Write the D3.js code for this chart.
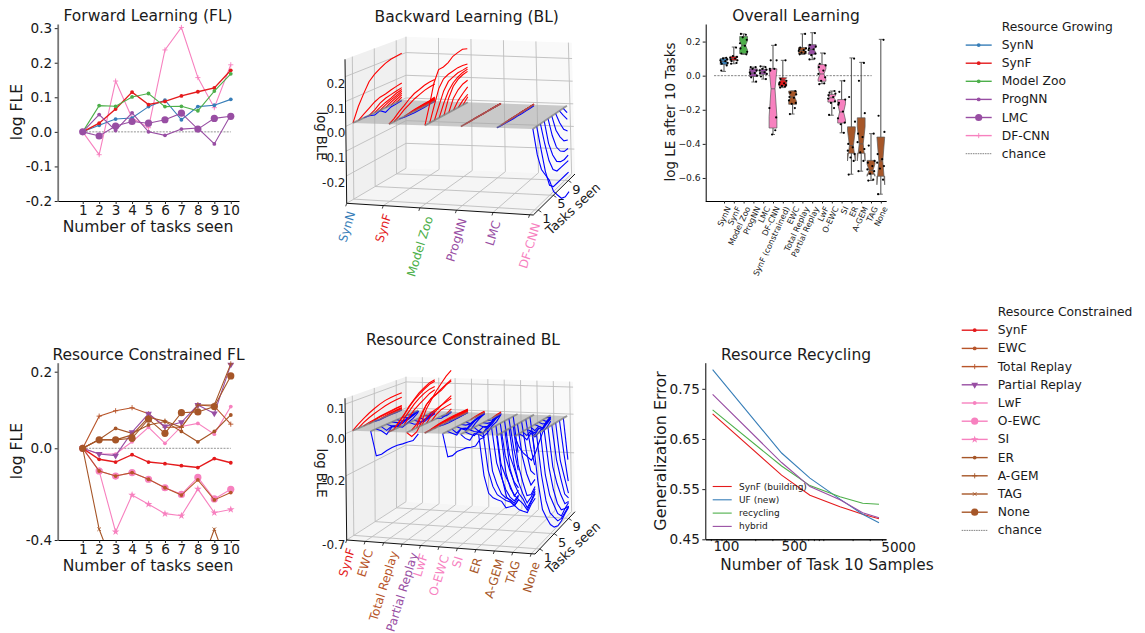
<!DOCTYPE html>
<html>
<head>
<meta charset="utf-8">
<script src="https://cdn.jsdelivr.net/npm/d3@7"></script>
<style>
  body { margin: 0; background: #fff; }
  text { font-family: "DejaVu Sans", sans-serif; fill: #1a1a1a; }
</style>
</head>
<body>
<svg id="chart" width="1145" height="633"></svg>
<script>
// ---- data ----
var taskTicks = [1, 2, 3, 4, 5, 6, 7, 8, 9, 10];

// forward learning, resource growing
var growNames = ["SynN", "SynF", "Model Zoo", "ProgNN", "LMC", "DF-CNN"];
var flSynN = [0, .019, .037, .040, .073, .092, .035, .073, .077, .094];
var flSynF = [0, .025, .066, .115, .079, .088, .104, .116, .127, .178];
var flZoo = [0, .076, .074, .101, .111, .073, .074, .061, .118, .168];
var flProg = [0, .05, .004, .055, 0, -.01, .008, .011, -.035, .049];
var flLMC = [0, -.012, .017, .03, .025, .035, .054, .008, .039, .045];
var flDFCNN = [0, -.066, .147, .04, .012, .237, .302, .157, .07, .194];

// forward learning, resource constrained
var consNames = ["SynF", "EWC", "Total Replay", "Partial Replay", "LwF", "O-EWC", "SI", "ER", "A-GEM", "TAG", "None"];
var rcSynF = [0, -.048, -.06, -.028, -.06, -.067, -.076, -.084, -.045, -.063];
var rcEWC = [0, -.099, -.121, -.106, -.135, -.172, -.204, -.138, -.225, -.193];
var rcTotal = [0, .084, .098, .106, .09, .055, .055, .113, .110, .063];
var rcPartial = [0, -.025, -.032, .042, .09, .057, .068, .113, .091, .218];
var rcLwF = [0, -.025, -.025, .017, .055, .013, .057, .065, .037, .109];
var rcOEWC = [0, -.099, -.121, -.106, -.135, -.172, -.201, -.127, -.221, -.179];
var rcSI = [0, -.099, -.364, -.204, -.244, -.285, -.294, -.178, -.281, -.267];
var rcER = [0, .023, .052, .039, .061, .07, .044, .017, .044, .087];
var rcAGEM = [0, .023, .022, .035, .081, .071, .055, .113, .113, .22];
var rcTAG = [0, -.353, -.54, -.6, -.6, -.6, -.6, -.55, -.353, -.55];
var rcNone = [0, .022, .022, .026, .076, .039, .093, .095, .109, .189];

// backward learning, one list per task, starting on the task it belongs to
var blSynN = [
  [0, .057, .1, .14, .161, .176, .189, .197, .201, .204],
  [0, .015, .03, .045, .055, .058, .065, .07, .074],
  [0, -.002, -.01, -.002, -.02, -.008, -.006, -.003],
  [0, .012, .03, .04, .045, .05, .054],
  [0, .012, .022, .03, .04, .046],
  [0, .012, .022, .03, .038],
  [0, .012, .022, .03],
  [0, .012, .022],
  [0, .012]
];
var blSynF = [
  [0, .012, .03, .045, .062, .075, .082, .09, .094, .094],
  [0, .012, .028, .04, .052, .06, .068, .072, .075],
  [0, -.003, -.005, -.006, -.005, -.004, -.002, -.001],
  [0, .004, .008, .01, .012, .013, .018],
  [0, .004, .008, .01, .012, .014],
  [0, .004, .006, .008, .012],
  [0, .003, .005, .01],
  [0, .003, .007],
  [0, .004]
];
var blZoo = [
  [0, .071, .151, .197, .199, .209, .227, .234, .24, .234],
  [0, .06, .12, .15, .16, .165, .17, .17, .167],
  [0, .05, .1, .13, .14, .148, .15, .153],
  [0, .05, .09, .115, .13, .14, .145],
  [0, .06, .1, .12, .13, .135],
  [0, .05, .075, .09, .096],
  [0, .03, .05, .067],
  [0, .02, .035],
  [0, .024]
];
var blProg = [
  [0, 0, 0, 0, 0, 0, 0, 0, 0, 0],
  [0, 0, 0, 0, 0, 0, 0, 0, 0],
  [0, 0, 0, 0, 0, 0, 0, 0],
  [0, 0, 0, 0, 0, 0, 0],
  [0, 0, 0, 0, 0, 0],
  [0, 0, 0, 0, 0],
  [0, 0, 0, 0],
  [0, 0, 0],
  [0, 0]
];
var blLMC = [
  [0, -.002, -.003, -.004, -.005, -.005, -.006, -.006, -.006, -.005],
  [0, .001, .001, .001, .001, .001, .001, .001, .001],
  [0, .001, .001, .001, .001, .001, .001, .001],
  [0, .001, .001, .001, .001, .001, .001],
  [0, .001, .001, .001, .001, .001],
  [0, .001, .001, .001, .001],
  [0, .001, .001, .001],
  [0, .001, .001],
  [0, .001]
];
var blDFCNN = [
  [0, -.111, -.18, -.215, -.25, -.31, -.34, -.37, -.38, -.375],
  [0, -.1, -.2, -.27, -.29, -.29, -.29, -.29, -.29],
  [0, -.09, -.17, -.22, -.24, -.24, -.24, -.24],
  [0, -.1, -.16, -.2, -.215, -.22, -.216],
  [0, -.08, -.14, -.17, -.185, -.187],
  [0, -.07, -.11, -.14, -.15],
  [0, -.05, -.09, -.11],
  [0, -.03, -.06],
  [0, -.03]
];

var bcSynF = [
  [0, .014, .026, .037, .046, .054, .06, .063, .064, .065],
  [0, .012, .021, .028, .034, .04, .044, .046, .048],
  [0, .004, .007, .01, .012, .014, .015, .016],
  [0, .004, .007, .009, .011, .013, .014],
  [0, -.003, -.002, -.001, -.002, -.001],
  [0, .004, .006, .008, .009],
  [0, .003, .005, .007],
  [0, .003, .005],
  [0, .002]
];
var bcEWC = [
  [0, -.13, -.135, -.13, -.128, -.13, -.136, -.14, -.146, -.125],
  [0, -.02, -.05, -.025, -.035, -.05, -.04, -.03, -.01],
  [0, -.03, -.02, -.035, -.03, -.02, -.01, -.005],
  [0, -.02, -.03, -.02, -.025, -.015, -.005],
  [0, -.015, -.03, -.02, -.01, -.005],
  [0, -.02, -.015, -.01, -.003],
  [0, -.015, -.01, -.004],
  [0, -.01, -.005],
  [0, -.005]
];
var bcTotal = [
  [0, 0, .018, .035, .058, .075, .092, .104, .114, .118],
  [0, .017, .035, .055, .072, .086, .098, .108, .112],
  [0, .022, .04, .058, .072, .083, .09, .092],
  [0, .02, .037, .05, .062, .074, .08],
  [0, -.02, -.03, -.02, -.02, -.015],
  [0, -.02, -.03, -.02, -.01],
  [0, -.02, -.01, -.005],
  [0, -.015, -.005],
  [0, -.005]
];
var bcPartial = [
  [0, -.03, -.02, .012, .05, .075, .1, .12, .14, .155],
  [0, .012, .04, .065, .08, .088, .1, .11, .12],
  [0, .035, .065, .08, .088, .095, .108, .115],
  [0, .02, .03, .035, .04, .05, .06],
  [0, .02, .03, .04, .045, .05],
  [0, .015, .025, .028, .03],
  [0, -.01, -.005, 0],
  [0, -.01, -.004],
  [0, .01]
];
var bcLwF = [
  [0, .002, .005, .008, .01, .012, .012, .012, .012, .012],
  [0, .003, .006, .008, .009, .01, .01, .01, .01],
  [0, .003, .005, .007, .008, .009, .009, .009],
  [0, -.004, -.006, -.005, -.004, -.002, -.001],
  [0, .003, .005, .006, .007, .007],
  [0, -.003, -.005, -.003, -.001],
  [0, .002, .004, .005],
  [0, .002, .003],
  [0, .002]
];
var bcOEWC = [
  [0, -.12, -.127, -.12, -.124, -.128, -.138, -.146, -.124, -.127],
  [0, -.02, -.04, -.02, -.03, -.05, -.03, -.015, -.005],
  [0, -.03, -.02, -.04, -.02, -.015, -.01, -.005],
  [0, -.02, -.04, -.03, -.015, -.01, -.003],
  [0, -.015, -.02, -.015, -.005, 0],
  [0, -.02, -.01, -.005, .002],
  [0, .004, .005, .006],
  [0, .003, .004],
  [0, .002]
];
var bcSI = [
  [0, -.03, -.05, -.03, -.045, -.07, -.06, -.04, -.03, -.005],
  [0, -.02, -.04, -.03, -.05, -.04, -.03, -.01, -.005],
  [0, -.02, -.035, -.05, -.03, -.02, -.01, -.003],
  [0, -.03, -.02, -.04, -.02, -.01, -.005],
  [0, -.02, -.03, -.015, -.005, .002],
  [0, -.015, -.02, -.01, .002],
  [0, -.01, -.005, .003],
  [0, .004, .005],
  [0, .003]
];
var bcER = [
  [0, -.2, -.36, -.42, -.46, -.5, -.58, -.6, -.62, -.6],
  [0, -.19, -.33, -.42, -.47, -.52, -.56, -.62, -.6],
  [0, -.21, -.34, -.44, -.5, -.54, -.6, -.57],
  [0, -.18, -.3, -.43, -.52, -.58, -.56],
  [0, -.2, -.32, -.42, -.54, -.52],
  [0, -.17, -.3, -.42, -.5],
  [0, -.18, -.3, -.45],
  [0, -.16, -.35],
  [0, -.2]
];
var bcAGEM = [
  [0, -.21, -.38, -.44, -.5, -.56, -.6, -.64, -.6, -.58],
  [0, -.2, -.34, -.42, -.48, -.54, -.62, -.58, -.54],
  [0, -.19, -.33, -.43, -.5, -.6, -.57, -.52],
  [0, -.18, -.34, -.46, -.56, -.54, -.5],
  [0, -.2, -.36, -.5, -.52, -.48],
  [0, -.17, -.32, -.44, -.42],
  [0, -.16, -.32, -.38],
  [0, -.15, -.3],
  [0, -.18]
];
var bcTAG = [
  [0, -.06, -.1, -.13, -.16, -.14, -.1, -.06, -.05, -.03],
  [0, -.02, -.05, -.03, -.06, -.05, -.04, -.03, -.02],
  [0, -.03, -.02, -.05, -.03, -.04, -.02, -.01],
  [0, -.02, -.04, -.03, -.05, -.03, -.01],
  [0, -.03, -.02, -.04, -.02, -.01],
  [0, -.02, -.04, -.02, -.01],
  [0, -.02, -.03, -.01],
  [0, -.02, -.01],
  [0, -.01]
];
var bcNone = [
  [0, -.22, -.46, -.55, -.63, -.68, -.7, -.69, -.66, -.64],
  [0, -.2, -.42, -.54, -.6, -.66, -.67, -.65, -.63],
  [0, -.22, -.4, -.5, -.6, -.65, -.62, -.63],
  [0, -.19, -.38, -.52, -.6, -.62, -.6],
  [0, -.2, -.36, -.48, -.58, -.59],
  [0, -.18, -.34, -.5, -.56],
  [0, -.2, -.36, -.52],
  [0, -.18, -.42],
  [0, -.24]
];

// overall learning
var olNames = ["SynN", "SynF", "Model Zoo", "ProgNN", "LMC", "DF-CNN", "SynF (constrained)", "EWC", "Total Replay", "Partial Replay", "LwF", "O-EWC", "SI", "ER", "A-GEM", "TAG", "None"];
var olQ1 = [.066, .09, .129, -.005, .008, -.307, -.062, -.168, .129, .125, -.033, -.155, -.278, -.455, -.455, -.578, -.59];
var olMedian = [.084, .1, .178, .015, .022, -.077, -.025, -.125, .148, .153, .01, -.13, -.213, -.41, -.4, -.555, -.5];
var olQ3 = [.1, .113, .23, .04, .037, .04, -.012, -.09, .165, .182, .065, -.11, -.14, -.3, -.247, -.497, -.36];
var olNotchLow = [.073, .092, .15, 0, .01, -.24, -.04, -.15, .135, .13, -.02, -.145, -.26, -.5, -.5, -.59, -.64];
var olNotchHigh = [.095, .108, .205, .03, .032, .04, -.012, -.1, .16, .175, .04, -.115, -.165, -.32, -.3, -.52, -.36];
var olWhiskLow = [.025, .07, .125, -.037, -.02, -.345, -.07, -.225, .125, .094, -.047, -.232, -.335, -.578, -.56, -.615, -.695];
var olWhiskHigh = [.105, .168, .245, .05, .055, .178, .09, -.09, .245, .252, .133, -.09, -.03, .104, .078, -.34, .213];
var olPoints = [
  [.06, .07, .075, .08, .085, .09, .095, .1, .105, .03],
  [.075, .085, .09, .095, .1, .105, .11, .115, .165, .07],
  [.125, .13, .14, .16, .175, .19, .21, .225, .24, .245],
  [-.035, -.01, 0, .01, .015, .02, .03, .04, .05, .05],
  [-.02, -.005, .01, .015, .02, .03, .035, .04, .05, .055],
  [.18, .09, .09, .04, .04, -.19, -.245, -.345, -.32, .03],
  [.09, -.02, -.03, -.04, -.045, -.05, -.055, -.06, -.065, -.07],
  [-.09, -.1, -.11, -.125, -.13, -.145, -.16, -.165, -.19, -.225],
  [.245, .165, .16, .155, .15, .145, .14, .135, .13, .125],
  [.25, .18, .17, .16, .155, .15, .13, .12, .1, .095],
  [.13, .07, .06, .05, .03, .01, -.01, -.03, -.045, -.05],
  [-.09, -.1, -.105, -.115, -.125, -.135, -.15, -.16, -.19, -.23],
  [-.03, -.095, -.14, -.17, -.21, -.25, -.275, -.285, -.335, -.16],
  [.1, -.125, -.27, -.4, -.42, -.44, -.46, -.48, -.5, -.58],
  [.075, -.03, -.22, -.34, -.36, -.39, -.43, -.45, -.5, -.56],
  [-.34, -.41, -.5, -.51, -.53, -.55, -.56, -.575, -.61, -.615],
  [.21, -.235, -.33, -.46, -.49, -.51, -.53, -.545, -.61, -.695]
];
var olJitter = [.3, -.25, .4, -.35, .15, -.4, .35, -.1, .25, -.3];

// resource recycling
var recycleNames = ["SynF (building)", "UF (new)", "recycling", "hybrid"];
var recycleSamples = [73, 373, 729, 1483, 2535, 3733];
var recSynF = [.70, .578, .538, .515, .5, .491];
var recUF = [.788, .622, .572, .53, .5, .483];
var recRecycling = [.708, .596, .557, .535, .522, .52];
var recHybrid = [.739, .603, .555, .529, .503, .493];

// ---- colours ----
var blue = "#377eb8", red = "#e41a1c", green = "#4daf4a", purple = "#984ea3",
    pink = "#f781bf", brown = "#a65628", rust = "#b8552a";
var growColors = [blue, red, green, purple, purple, pink];
var growMarks = ["dot", "dot", "dot", "dot", "big", "plus"];
var consColors = [red, rust, rust, purple, pink, pink, pink, brown, brown, brown, brown];
var consMarks = ["dot", "dot", "plus", "tri", "dot", "big", "star", "dot", "plus", "x", "big"];
var olColors = [blue, red, green, purple, purple, pink, red, brown, brown, purple, pink, pink, pink, brown, brown, brown, brown];
var recycleColors = [red, blue, green, purple];

var svg = d3.select("#chart");
var font = { title: 15.5, label: 15.6, tick: 13.6 };

function addText(g, x, y, str, size, anchor, rotate, color) {
  var t = g.append("text")
    .attr("transform", "translate(" + x + "," + y + ")" + (rotate ? " rotate(" + rotate + ")" : ""))
    .attr("text-anchor", anchor || "middle")
    .style("font-size", size + "px")
    .text(str);
  if (color) t.style("fill", color);
  return t;
}

function drawMark(g, kind, x, y, color) {
  var m;
  if (kind == "dot" || kind == "big") {
    m = g.append("circle").attr("cx", x).attr("cy", y).attr("r", kind == "big" ? 3.6 : 1.9).attr("fill", color);
  } else {
    var type = { plus: d3.symbolPlus, x: d3.symbolTimes, tri: d3.symbolTriangle, star: d3.symbolStar }[kind];
    var size = { plus: 10, x: 10, tri: 20, star: 18 }[kind];
    m = g.append("path").attr("d", d3.symbol().type(type).size(size)())
      .attr("transform", "translate(" + x + "," + y + ")" + (kind == "tri" ? " rotate(180)" : ""));
    if (kind == "plus" || kind == "x") m.attr("fill", "none").attr("stroke", color).attr("stroke-width", 0.9);
    else m.attr("fill", color);
  }
}

function styleAxis(a, size) {
  a.selectAll("text").style("font-size", size + "px").style("font-family", '"DejaVu Sans", sans-serif');
  a.selectAll("line").attr("stroke", "#222");
}

var clipCount = 0;
function linePanel(series, colors, marks, x, y, yTicks) {
  var g = svg.append("g");
  var id = "clip" + (clipCount++);
  var yr = y.range();
  svg.append("clipPath").attr("id", id).append("rect")
    .attr("x", x.range()[0]).attr("y", yr[yr.length - 1] - 6)
    .attr("width", x.range()[1] - x.range()[0] + 6)
    .attr("height", yr[0] - yr[yr.length - 1] + 6);
  var line = d3.line().x(function(d, i) { return x(taskTicks[i]); }).y(function(d) { return y(d); });
  var plot = g.append("g").attr("clip-path", "url(#" + id + ")");
  plot.append("line").attr("x1", x(1)).attr("x2", x(10)).attr("y1", y(0)).attr("y2", y(0))
    .attr("stroke", "#666").attr("stroke-width", 0.7).attr("stroke-dasharray", "2,1.2");
  series.forEach(function(vals, i) {
    plot.append("path").attr("d", line(vals)).attr("fill", "none")
      .attr("stroke", colors[i]).attr("stroke-width", colors[i] == red ? 1.4 : 1.1);
    vals.forEach(function(v, k) { drawMark(plot, marks[i], x(taskTicks[k]), y(v), colors[i]); });
  });
  var bx = g.append("g").attr("transform", "translate(0," + yr[0] + ")")
    .call(d3.axisBottom(x).tickValues(taskTicks).tickSize(3).tickPadding(1.5).tickSizeOuter(0));
  var by = g.append("g").attr("transform", "translate(" + x.range()[0] + ",0)")
    .call(d3.axisLeft(y).tickValues(yTicks).tickSize(3).tickPadding(2.5).tickSizeOuter(0)
      .tickFormat(function(d) { return d3.format(".1f")(d).replace("\u2212", "-"); }));
  styleAxis(bx, font.tick); styleAxis(by, font.tick);
  by.select(".domain").attr("stroke", "#777").attr("stroke-width", 1.8);
  return g;
}

// ---- forward learning panels ----
var xFL = d3.scaleLinear().domain([-.52, 10.5]).range([57.7, 239]);
var yFL = d3.scaleLinear().domain([-.2, .312]).range([201, 24]);
var g1 = linePanel([flDFCNN, flSynN, flSynF, flZoo, flProg, flLMC],
  [pink, blue, red, green, purple, purple], ["plus", "dot", "dot", "dot", "dot", "big"],
  xFL, yFL, [-.2, -.1, 0, .1, .2, .3]);
addText(g1, 148, 21, "Forward Learning (FL)", font.title);
addText(g1, 148, 232, "Number of tasks seen", font.label);
addText(g1, 22, 112, "log FLE", font.label, "middle", -90);

// the lower panel's y axis is not even between its three labels
var yRC = d3.scaleLinear().domain([-.4, 0, .2, .223]).range([540, 448.3, 371.7, 362.7]);
var g4 = linePanel([rcLwF, rcOEWC, rcSI, rcEWC, rcSynF, rcER, rcTotal, rcPartial, rcAGEM, rcTAG, rcNone],
  [pink, pink, pink, rust, red, brown, rust, purple, brown, brown, brown],
  ["dot", "big", "star", "dot", "dot", "dot", "plus", "tri", "plus", "x", "big"],
  xFL, yRC, [-.4, 0, .2]);
addText(g4, 148.5, 360, "Resource Constrained FL", font.title);
addText(g4, 148, 571, "Number of tasks seen", font.label);
addText(g4, 22, 451, "log FLE", font.label, "middle", -90);

// ---- 3d panels ----
function panel3d(opts) {
  var c = opts.corners;
  var u = d3.scaleLinear().domain([0, opts.curves.length - 1]).range([0, .98]);
  var v = d3.scaleLinear().domain([1, 10]).range([.12, .93]);
  var w = opts.zScale;
  function mix(a, b, t) { return [a[0] + (b[0] - a[0]) * t, a[1] + (b[1] - a[1]) * t]; }
  // trilinear between the eight corners of the box
  function project(alg, task, z) {
    var fu = u(alg), fv = v(task), fw = w(z);
    var bottom = mix(mix(c.flb, c.frb, fu), mix(c.blb, c.brb, fu), fv);
    var top = mix(mix(c.flt, c.frt, fu), mix(c.blt, c.brt, fu), fv);
    return mix(bottom, top, fw);
  }
  var n = opts.curves.length;
  var zLow = w.domain()[0], zHigh = w.invert(1);
  var tEdge = v.invert(1), tFront = v.invert(0);
  var algs = d3.range(n);
  var g = svg.append("g");

  var poly = function(pts, fill) {
    g.append("polygon").attr("points", pts.map(function(p) { return p.join(","); }).join(" ")).attr("fill", fill);
  };
  poly([c.flb, c.blb, c.blt, c.flt], "#f0f0f0");
  poly([c.blb, c.brb, c.brt, c.blt], "#f9f9f9");
  poly([c.flb, c.frb, c.brb, c.blb], "#f5f5f5");

  var seg = function(a, b, color, width) {
    g.append("line").attr("x1", a[0]).attr("y1", a[1]).attr("x2", b[0]).attr("y2", b[1])
      .attr("stroke", color).attr("stroke-width", width);
  };
  var grid = "#bdbdbd";
  algs.forEach(function(a) {
    seg(project(a, tFront, zLow), project(a, tEdge, zLow), grid, 0.9);
    seg(project(a, tEdge, zLow), project(a, tEdge, zHigh), grid, 0.9);
  });
  opts.taskTicks.forEach(function(t) {
    seg(mix(mix(c.flb, c.blb, v(t)), mix(c.frb, c.brb, v(t)), 0), mix(c.frb, c.brb, v(t)), grid, 0.9);
    seg(project(0, t, zLow), project(0, t, zHigh), grid, 0.9);
  });
  opts.zTicks.forEach(function(z) {
    seg(project(0, tFront, z), project(0, tEdge, z), grid, 0.9);
    seg(project(0, tEdge, z), mix(mix(c.brb, c.brt, w(z)), mix(c.brb, c.brt, w(z)), 0), grid, 0.9);
  });

  // the gray plane at zero
  g.append("polygon").attr("points", [project(0, 1, 0), project(n - 1, 1, 0), project(n - 1, 10, 0), project(0, 10, 0)]
    .map(function(p) { return p.join(","); }).join(" ")).attr("fill", "#a8a8a8").attr("opacity", .6);

  var line = d3.line();
  opts.curves.forEach(function(tasks, a) {
    tasks.forEach(function(vals, k) {
      var pts = vals.map(function(z, i) { return project(a, k + 1 + i, z); });
      g.append("path").attr("d", line(pts)).attr("fill", "none")
        .attr("stroke", d3.sum(vals) >= 0 ? "#ff0000" : "#0000ff").attr("stroke-width", 1.1);
    });
    g.append("path").attr("d", line([project(a, 1, 0), project(a, 10, 0)])).attr("fill", "none")
      .attr("stroke", "#7a7a7a").attr("stroke-width", 1.8).attr("opacity", .7);
  });

  // axis lines and labels
  seg(c.flb, c.frb, "#111", 1);
  seg(c.flb, c.flt, "#111", 1);
  seg(c.frb, c.brb, "#111", 1);
  var angle = 73 * Math.PI / 180;
  algs.forEach(function(a) {
    var p = project(a, tFront, zLow);
    seg(p, [p[0] - 1, p[1] + 3], "#111", 0.8);
    // rotated label centred under its tick, with its top edge a fixed gap below the axis
    var t = addText(g, p[0], p[1], opts.names[a], 12, "middle", -73, opts.colors[a]).attr("dy", ".35em");
    var half = t.node().getComputedTextLength() / 2 * Math.sin(angle);
    t.attr("transform", "translate(" + p[0] + "," + (p[1] + 8.5 + half) + ") rotate(-73)");
  });
  opts.taskTicks.forEach(function(t) {
    var p = mix(c.frb, c.brb, v(t));
    seg(p, [p[0] + 3, p[1] + 2], "#111", 0.8);
    addText(g, p[0] + 8, p[1] + 13, t, 13);
  });
  opts.zLabels.forEach(function(z) {
    var p = project(0, tFront, z);
    addText(g, 345.5, p[1] + opts.zLabelDy, d3.format(".1f")(z).replace("\u2212", "-"), 12, "end");
  });
  addText(g, opts.title[0], opts.title[1], opts.title[2], font.title);
  addText(g, opts.zName[0], opts.zName[1], "log BLE", 13.2, "middle", 90);
  addText(g, opts.tasksName[0], opts.tasksName[1], "Tasks seen", 12.8, "middle", -43);
}

panel3d({
  corners: {
    flb: [346.7, 203.3], frb: [533.3, 215], blb: [406, 168.3], brb: [575, 174],
    flt: [345, 59.3], frt: [530, 60.7], blt: [406, 36.7], brt: [571.7, 42.7]
  },
  curves: [blSynN, blSynF, blZoo, blProg, blLMC, blDFCNN],
  names: growNames, colors: growColors,
  zScale: d3.scaleLinear().domain([-.31, .27]).range([0, 1]),
  zTicks: [-.2, -.1, 0, .1, .2], zLabels: [-.2, -.1, 0, .1, .2], zLabelDy: 11,
  taskTicks: [1, 5, 9],
  title: [466.7, 22, "Backward Learning (BL)"],
  zName: [317, 136], tasksName: [576, 212]
});

panel3d({
  corners: {
    flb: [346.7, 540], frb: [535, 554], blb: [406, 501.7], brb: [575, 511.7],
    flt: [345, 398.3], frt: [530, 402], blt: [406, 376.7], brt: [573, 381.7]
  },
  curves: [bcSynF, bcEWC, bcTotal, bcPartial, bcLwF, bcOEWC, bcSI, bcER, bcAGEM, bcTAG, bcNone],
  names: consNames, colors: consColors,
  zScale: d3.scaleLinear().domain([-.7, -.2, 0, .12]).range([0, .453, .75, 1]),
  zTicks: [-.2, 0, .1], zLabels: [-.7, -.2, 0, .1], zLabelDy: 9,
  taskTicks: [1, 5, 9],
  title: [463, 345, "Resource Constrained BL"],
  zName: [317, 473], tasksName: [576, 551]
});

// ---- overall learning ----
(function() {
  var g = svg.append("g");
  var x = d3.scalePoint().domain(olNames).range([724, 880.8]);
  var y = d3.scaleLinear().domain([-.735, .303]).range([201, 24]);
  g.append("line").attr("x1", 714).attr("x2", 871.7).attr("y1", y(0)).attr("y2", y(0))
    .attr("stroke", "#666").attr("stroke-width", 0.8).attr("stroke-dasharray", "2.2,1.2");
  olNames.forEach(function(name, i) {
    var cx = x(name), w = 3.9, nw = 2;
    g.append("line").attr("x1", cx).attr("x2", cx).attr("y1", y(olWhiskLow[i])).attr("y2", y(olWhiskHigh[i]))
      .attr("stroke", "#5a5a5a").attr("stroke-width", 1.1);
    [olWhiskLow[i], olWhiskHigh[i]].forEach(function(v) {
      g.append("line").attr("x1", cx - 2).attr("x2", cx + 2).attr("y1", y(v)).attr("y2", y(v))
        .attr("stroke", "#5a5a5a").attr("stroke-width", .9);
    });
    var notched = d3.line()([
      [cx - w, y(olQ1[i])], [cx - w, y(olNotchLow[i])], [cx - nw, y(olMedian[i])], [cx - w, y(olNotchHigh[i])], [cx - w, y(olQ3[i])],
      [cx + w, y(olQ3[i])], [cx + w, y(olNotchHigh[i])], [cx + nw, y(olMedian[i])], [cx + w, y(olNotchLow[i])], [cx + w, y(olQ1[i])]
    ]) + "Z";
    g.append("path").attr("d", notched).attr("fill", olColors[i]).attr("stroke", "#5a5a5a").attr("stroke-width", .7);
    g.append("line").attr("x1", cx - nw).attr("x2", cx + nw).attr("y1", y(olMedian[i])).attr("y2", y(olMedian[i]))
      .attr("stroke", "#5a5a5a").attr("stroke-width", .8);
    olPoints[i].forEach(function(v, k) {
      g.append("circle").attr("cx", cx + olJitter[k] * 9).attr("cy", y(v)).attr("r", 1.1).attr("fill", "#000");
    });
  });
  var ax = g.append("g").attr("transform", "translate(0,201)")
    .call(d3.axisBottom(x).tickSize(2.5).tickPadding(1).tickSizeOuter(0));
  ax.select(".domain").attr("d", "M705.7,0.5H886.7");
  ax.selectAll("text").attr("text-anchor", "end").attr("x", 0).attr("y", 0).attr("dy", "0.35em")
    .attr("transform", "translate(4,6) rotate(-65)");
  styleAxis(ax, 8);
  var ay = g.append("g").attr("transform", "translate(705.7,0)")
    .call(d3.axisLeft(y).tickValues([-.6, -.4, -.2, 0, .2]).tickSize(3).tickPadding(2).tickSizeOuter(0).tickFormat(d3.format(".1f")));
  styleAxis(ay, 9.2);
  addText(g, 796, 21, "Overall Learning", font.title);
  addText(g, 675, 112, "log LE after 10 Tasks", 13.5, "middle", -90);
})();

// ---- resource recycling ----
(function() {
  var g = svg.append("g");
  var x = d3.scaleLog().domain([61.4, 4405]).range([705.3, 886]);
  var y = d3.scaleLinear().domain([.45, .802]).range([539.3, 362.7]);
  var line = d3.line().x(function(d, i) { return x(recycleSamples[i]); }).y(function(d) { return y(d); });
  [recSynF, recUF, recRecycling, recHybrid].forEach(function(vals, i) {
    g.append("path").attr("d", line(vals)).attr("fill", "none").attr("stroke", recycleColors[i]).attr("stroke-width", 1.1);
    var ly = 486.5 + i * 13.3;
    g.append("line").attr("x1", 712.7).attr("x2", 731.7).attr("y1", ly).attr("y2", ly)
      .attr("stroke", recycleColors[i]).attr("stroke-width", 1.1);
    addText(g, 739, ly + 3, recycleNames[i], 9, "start");
  });
  var minor = g.append("g").attr("transform", "translate(0,539.3)")
    .call(d3.axisBottom(x).tickValues([70, 80, 90, 200, 300, 400, 600, 700, 800, 900, 1000, 2000, 3000, 4000]).tickSize(1.8).tickFormat("").tickSizeOuter(0));
  var major = g.append("g").attr("transform", "translate(0,539.3)")
    .call(d3.axisBottom(x).tickValues([100, 500]).tickSize(3).tickPadding(-1).tickSizeOuter(0).tickFormat(d3.format("d")));
  styleAxis(major, 13.6); styleAxis(minor, 13.6);
  addText(g, x(4405) + 12.6, 552, "5000", 13.6);
  var ay = g.append("g").attr("transform", "translate(705.3,0)")
    .call(d3.axisLeft(y).tickValues([.45, .55, .65, .75]).tickSize(3).tickPadding(2.5).tickSizeOuter(0).tickFormat(d3.format(".2f")));
  styleAxis(ay, 13.6);
  addText(g, 796, 360, "Resource Recycling", font.title);
  addText(g, 827, 570, "Number of Task 10 Samples", 15.3);
  addText(g, 666, 451, "Generalization Error", 15.9, "middle", -90);
})();

// ---- legends ----
function legend(x, y, step, title, names, colors, marks) {
  var g = svg.append("g");
  addText(g, x + 36, y + 4, title, 12.3, "start");
  names.concat(["chance"]).forEach(function(name, i) {
    var ly = y + step * (i + 1);
    var chance = i == names.length;
    var color = chance ? "#777" : colors[i];
    g.append("line").attr("x1", x).attr("x2", x + 26).attr("y1", ly).attr("y2", ly)
      .attr("stroke", color).attr("stroke-width", chance ? .9 : 1.4)
      .attr("stroke-dasharray", chance ? "1.6,.8" : null);
    if (!chance) drawMark(g, marks[i], x + 13, ly, color);
    addText(g, x + 36, ly + 4, name, 12.3, "start");
  });
}
legend(965.7, 27, 18.1, "Resource Growing", growNames, growColors, growMarks);
legend(961.7, 312, 18.2, "Resource Constrained", consNames, consColors, consMarks);
</script>
</body>
</html>
